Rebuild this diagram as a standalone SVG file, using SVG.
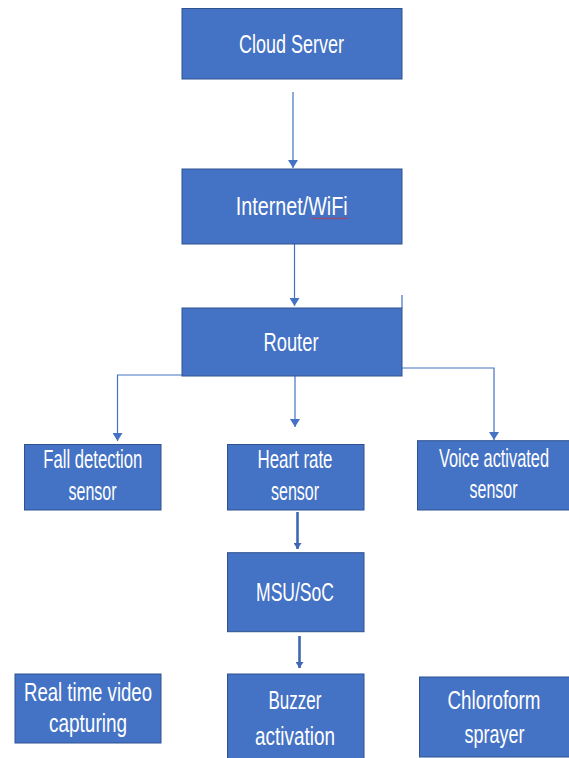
<svg xmlns="http://www.w3.org/2000/svg" width="569" height="758" viewBox="0 0 569 758">
<style>
.box{fill:#4472C4;stroke:#2F528F;stroke-width:1}
.lbl{font-family:"Liberation Sans",Arial,sans-serif;font-size:25px;fill:#ffffff;text-anchor:middle}
.conn{fill:none;stroke:#4472C4;stroke-width:1.2}
.thick{fill:none;stroke:#3F67B3;stroke-width:2.6}
</style>
<defs>
<marker id="ah" markerUnits="userSpaceOnUse" markerWidth="8" markerHeight="10" viewBox="0 0 8 10" refX="8" refY="5" orient="auto">
<path d="M0,0 L8,5 L0,10 Z" fill="#4472C4"/>
</marker>
<marker id="ahd" markerUnits="userSpaceOnUse" markerWidth="6" markerHeight="8" viewBox="0 0 6 8" refX="6" refY="4" orient="auto">
<path d="M0,0 L6,4 L0,8 Z" fill="#3F67B3"/>
</marker>
</defs>
<rect width="569" height="758" fill="#ffffff"/>
<g id="connectors">
<line class="conn" x1="293" y1="92" x2="293" y2="168" marker-end="url(#ah)"/>
<line class="conn" x1="294.5" y1="244" x2="294.5" y2="306" marker-end="url(#ah)"/>
<line class="conn" x1="402" y1="295" x2="402" y2="308"/>
<polyline class="conn" points="182,375 117.5,375 117.5,441" marker-end="url(#ah)"/>
<line class="conn" x1="295" y1="376" x2="295" y2="427" marker-end="url(#ah)"/>
<polyline class="conn" points="402,368 494,368 494,440" marker-end="url(#ah)"/>
<line class="thick" x1="297.5" y1="512" x2="297.5" y2="549" marker-end="url(#ahd)"/>
<line class="thick" x1="299.5" y1="636" x2="299.5" y2="668" marker-end="url(#ahd)"/>
</g>
<g id="cloud-server">
<rect class="box" x="182" y="8.5" width="220" height="70.5"/>
<text class="lbl" transform="translate(291.5,53) scale(0.7,1)" textLength="150" lengthAdjust="spacingAndGlyphs">Cloud Server</text>
</g>
<g id="internet-wifi">
<rect class="box" x="182" y="169" width="220" height="75"/>
<text class="lbl" transform="translate(291.7,215) scale(0.7,1)" textLength="160" lengthAdjust="spacingAndGlyphs">Internet/WiFi</text>
<path d="M311,219 l1.5,-1.2 l1.5,1.2 l1.5,-1.2 l1.5,1.2 l1.5,-1.2 l1.5,1.2 l1.5,-1.2 l1.5,1.2 l1.5,-1.2 l1.5,1.2 l1.5,-1.2 l1.5,1.2 l1.5,-1.2 l1.5,1.2 l1.5,-1.2 l1.5,1.2 l1.5,-1.2 l1.5,1.2 l1.5,-1.2 l1.5,1.2 l1.5,-1.2 l1.5,1.2 l1.5,-1.2 l1.5,1.2 l1.5,-1.2" fill="none" stroke="#D03030" stroke-width="0.8"/>
</g>
<g id="router">
<rect class="box" x="182" y="308" width="220" height="68"/>
<text class="lbl" transform="translate(291,351) scale(0.7,1)" textLength="78.6" lengthAdjust="spacingAndGlyphs">Router</text>
</g>
<g id="fall-detection-sensor">
<rect class="box" x="24.5" y="444.5" width="136.5" height="65.5"/>
<text class="lbl" transform="translate(92.8,468) scale(0.7,1)" textLength="141.4" lengthAdjust="spacingAndGlyphs">Fall detection</text>
<text class="lbl" transform="translate(92.5,500) scale(0.7,1)" textLength="68.6" lengthAdjust="spacingAndGlyphs">sensor</text>
</g>
<g id="heart-rate-sensor">
<rect class="box" x="227.5" y="444.5" width="136.5" height="65.5"/>
<text class="lbl" transform="translate(295,468) scale(0.7,1)" textLength="107.1" lengthAdjust="spacingAndGlyphs">Heart rate</text>
<text class="lbl" transform="translate(295,500) scale(0.7,1)" textLength="68.6" lengthAdjust="spacingAndGlyphs">sensor</text>
</g>
<g id="voice-activated-sensor">
<rect class="box" x="417.5" y="440.7" width="152" height="69.3"/>
<text class="lbl" transform="translate(494,467) scale(0.7,1)" textLength="157.1" lengthAdjust="spacingAndGlyphs">Voice activated</text>
<text class="lbl" transform="translate(493.5,498) scale(0.7,1)" textLength="68.6" lengthAdjust="spacingAndGlyphs">sensor</text>
</g>
<g id="msu-soc">
<rect class="box" x="227.5" y="552.7" width="136.5" height="79"/>
<text class="lbl" transform="translate(295,601) scale(0.7,1)" textLength="111.4" lengthAdjust="spacingAndGlyphs">MSU/SoC</text>
</g>
<g id="real-time-video-capturing">
<rect class="box" x="15" y="674" width="146" height="69"/>
<text class="lbl" transform="translate(88,701) scale(0.7,1)" textLength="182.9" lengthAdjust="spacingAndGlyphs">Real time video</text>
<text class="lbl" transform="translate(88,732) scale(0.7,1)" textLength="111.4" lengthAdjust="spacingAndGlyphs">capturing</text>
</g>
<g id="buzzer-activation">
<rect class="box" x="227.5" y="674" width="136.5" height="90"/>
<text class="lbl" transform="translate(295,709) scale(0.7,1)" textLength="75.7" lengthAdjust="spacingAndGlyphs">Buzzer</text>
<text class="lbl" transform="translate(295,745) scale(0.7,1)" textLength="114.3" lengthAdjust="spacingAndGlyphs">activation</text>
</g>
<g id="chloroform-sprayer">
<rect class="box" x="419.5" y="677" width="150" height="80"/>
<text class="lbl" transform="translate(494,708.5) scale(0.7,1)" textLength="132.9" lengthAdjust="spacingAndGlyphs">Chloroform</text>
<text class="lbl" transform="translate(494.5,743) scale(0.7,1)" textLength="85.7" lengthAdjust="spacingAndGlyphs">sprayer</text>
</g>
</svg>
